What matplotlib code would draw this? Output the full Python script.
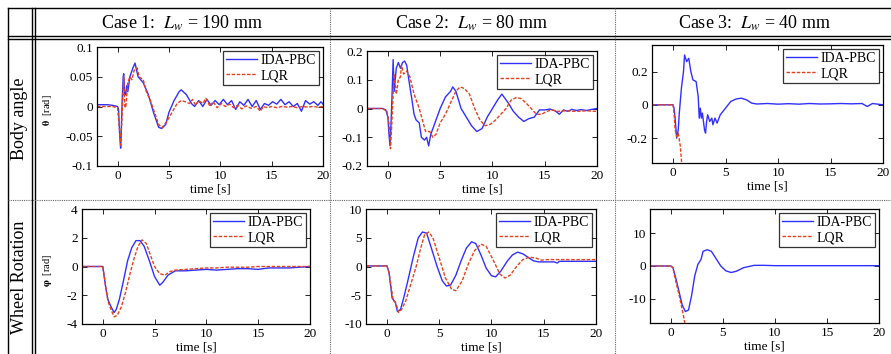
import matplotlib
matplotlib.use("Agg")
import matplotlib.pyplot as plt
from matplotlib.ticker import FuncFormatter

plt.rcParams["font.family"] = ["Liberation Serif", "DejaVu Serif"]
plt.rcParams["mathtext.fontset"] = "stix"
plt.rcParams["axes.unicode_minus"] = False

# ---- data ----
case_titles = ["Case 1:  $L_w$ = 190 mm", "Case 2:  $L_w$ = 80 mm", "Case 3:  $L_w$ = 40 mm"]
row_titles = ["Body angle", "Wheel Rotation"]
series_names = ["IDA-PBC", "LQR"]

# body angle, case 1
b1_ida_t = [-2, -1, -0.5, 0, 0.1, 0.2, 0.3, 0.35, 0.45, 0.55, 0.6, 0.7, 0.8, 0.9, 1.0, 1.2, 1.5, 1.7, 2.0,
            2.5, 3.0, 3.5, 4.0, 4.3, 4.7, 5.0, 5.5, 6.0, 6.2, 6.7, 7.2, 7.5, 7.9, 8.3, 8.7, 9.1, 9.5, 9.9,
            10.3, 10.7, 11.1, 11.5, 11.9, 12.3, 12.7, 13.1, 13.5, 13.9, 14.3, 14.7, 15.1, 15.5, 15.9,
            16.3, 16.7, 17.1, 17.5, 17.9, 18.3, 18.7, 19.1, 19.5, 19.8, 20]
b1_ida = [0.003, 0.003, 0.002, 0.0, -0.005, -0.045, -0.07, -0.05, 0.01, 0.05, 0.055, 0.02, 0.02, 0.035,
          0.025, 0.05, 0.065, 0.073, 0.05, 0.04, 0.02, -0.01, -0.035, -0.037, -0.03, -0.01, 0.01, 0.025,
          0.028, 0.02, 0.005, 0.0, 0.01, 0.0, 0.012, 0.002, 0.01, 0.003, 0.012, 0.003, 0.01, -0.005,
          0.008, 0.002, 0.012, 0.0, 0.01, -0.005, 0.005, 0.002, 0.008, 0.004, 0.012, 0.003, 0.008, 0.0,
          0.005, -0.008, 0.01, 0.004, 0.008, 0.002, 0.008, 0.004]
b1_lqr_t = [-2, -0.5, 0, 0.2, 0.3, 0.4, 0.5, 0.6, 0.7, 0.8, 1.0, 1.2, 1.4, 1.6, 1.9, 2.1, 2.5, 2.8, 3.2,
            3.6, 4.0, 4.3, 4.8, 5.3, 5.8, 6.2, 6.6, 7.0, 7.3, 7.6, 7.9, 8.3, 8.6, 9.0, 9.3, 9.7, 10.1,
            10.5, 10.9, 11.3, 11.7, 12.1, 12.5, 13.0, 13.5, 13.9, 14.2, 14.6, 15.0, 15.5, 16.0, 16.5,
            17.0, 17.5, 18.0, 18.5, 19.0, 19.5, 20]
b1_lqr = [0.0, 0.0, -0.002, -0.04, -0.065, -0.03, 0.01, 0.05, 0.0, -0.002, 0.04, 0.05, 0.045, 0.06,
          0.065, 0.05, 0.045, 0.025, 0.01, -0.01, -0.03, -0.036, -0.025, -0.01, 0.005, 0.01, 0.008,
          0.005, 0.012, 0.002, 0.01, 0.005, 0.014, 0.0, 0.008, -0.002, 0.005, 0.0, 0.004, -0.002, 0.002,
          -0.004, 0.001, -0.003, 0.0, -0.008, 0.0, -0.002, 0.0, -0.002, 0.0, -0.001, 0.0, -0.002, 0.0,
          -0.001, 0.0, -0.001, 0.0]

# body angle, case 2
b2_ida_t = [-2, -0.5, -0.2, 0.0, 0.1, 0.2, 0.3, 0.4, 0.5, 0.6, 0.7, 0.8, 1.0, 1.2, 1.4, 1.6, 1.8, 2.0,
            2.3, 2.5, 2.7, 3.0, 3.2, 3.5, 3.7, 3.9, 4.1, 4.5, 5.0, 5.5, 6.0, 6.2, 6.5, 7.0, 7.5, 8.0,
            8.5, 9.0, 9.5, 10.0, 10.5, 10.9, 11.5, 12.0, 12.5, 13.0, 13.5, 14.0, 14.5, 15.0, 15.5,
            16.0, 16.4, 16.8, 17.2, 17.6, 18.0, 18.5, 19.0, 19.5, 20]
b2_ida = [0.0, 0.0, -0.005, -0.03, -0.09, -0.13, -0.05, 0.05, 0.17, 0.06, 0.10, 0.14, 0.16, 0.14, 0.16,
          0.165, 0.15, 0.10, 0.03, -0.02, -0.04, -0.05, -0.10, -0.11, -0.10, -0.13, -0.09, -0.05, 0.0,
          0.04, 0.06, 0.075, 0.06, 0.0, -0.03, -0.06, -0.08, -0.07, -0.03, 0.0, 0.03, 0.05, 0.02,
          -0.01, -0.03, -0.045, -0.035, -0.03, -0.005, -0.005, -0.002, -0.008, -0.02, -0.005, -0.01,
          -0.003, -0.007, -0.004, -0.007, -0.003, 0.0]
b2_lqr_t = [-2, -0.5, -0.1, 0.1, 0.25, 0.35, 0.5, 0.6, 0.8, 1.0, 1.2, 1.3, 1.5, 1.8, 2.1, 2.5, 3.0, 3.3,
            3.6, 4.0, 4.3, 4.6, 5.0, 5.5, 6.0, 6.5, 6.9, 7.3, 7.8, 8.3, 8.8, 9.3, 9.8, 10.3, 10.8, 11.3,
            11.8, 12.3, 12.7, 13.2, 13.7, 14.2, 14.7, 15.2, 15.7, 16.2, 17.0, 18.0, 19.0, 20]
b2_lqr = [0.0, 0.0, -0.01, -0.05, -0.14, -0.07, 0.05, 0.12, 0.05, 0.10, 0.11, 0.15, 0.12, 0.13, 0.11,
          0.05, 0.0, -0.04, -0.08, -0.08, -0.10, -0.09, -0.05, -0.02, 0.02, 0.06, 0.075, 0.07, 0.05,
          0.0, -0.04, -0.06, -0.055, -0.04, -0.02, 0.0, 0.03, 0.038, 0.035, 0.02, 0.0, -0.02, -0.02,
          -0.01, -0.005, -0.01, -0.008, -0.01, -0.008, -0.01]

# body angle, case 3
b3_ida_t = [-2, -0.5, 0.0, 0.1, 0.2, 0.35, 0.5, 0.6, 0.8, 1.0, 1.1, 1.3, 1.5, 1.7, 1.9, 2.2, 2.4, 2.5,
            2.6, 2.7, 2.8, 2.9, 3.0, 3.1, 3.2, 3.3, 3.5, 3.7, 3.8, 4.0, 4.2, 4.5, 5.0, 5.5, 6.0, 6.5,
            7.0, 7.5, 8.0, 9.0, 10.0, 11.0, 12.0, 13.0, 14.0, 15.0, 16.0, 17.0, 18.0, 18.5, 19.0, 20]
b3_ida = [0.0, 0.0, 0.0, -0.02, -0.08, -0.2, -0.15, -0.05, 0.1, 0.2, 0.3, 0.26, 0.28, 0.2, 0.15, 0.14,
          0.05, -0.08, -0.02, -0.08, -0.05, -0.1, -0.15, -0.17, -0.1, -0.06, -0.1, -0.08, -0.12,
          -0.08, -0.11, -0.06, -0.02, 0.02, 0.035, 0.04, 0.03, 0.01, 0.005, 0.008, 0.004, 0.007,
          0.004, 0.008, 0.005, 0.006, 0.008, 0.006, 0.008, -0.01, 0.008, 0.0]
b3_lqr_t = [-2, -0.5, 0.0, 0.1, 0.2, 0.35, 0.5, 0.7, 0.8, 0.9]
b3_lqr = [0.0, 0.0, 0.0, -0.05, -0.15, -0.19, -0.17, -0.25, -0.33, -0.42]

# wheel rotation, case 1
w1_ida_t = [-2, 0, 0.1, 0.3, 0.5, 0.8, 1.1, 1.3, 1.6, 2.0, 2.4, 2.8, 3.2, 3.6, 4.0, 4.5, 5.0, 5.5, 5.8,
            6.3, 7.0, 8, 9, 10, 11, 12, 13, 14, 15, 16, 17, 18, 19, 20]
w1_ida = [0, 0, -0.5, -1.5, -2.3, -2.8, -3.2, -3.0, -2.3, -1.0, 0.4, 1.3, 1.8, 1.8, 1.4, 0.4, -0.7,
          -1.3, -1.1, -0.6, -0.3, -0.3, -0.25, -0.2, -0.25, -0.2, -0.15, -0.15, -0.2, -0.1, -0.1, -0.1,
          -0.05, 0.0]
w1_lqr_t = [-2, 0, 0.1, 0.3, 0.5, 0.8, 1.1, 1.4, 1.8, 2.2, 2.6, 3.0, 3.4, 3.8, 4.2, 4.6, 5.0, 5.5, 6.0,
            6.5, 7, 8, 9, 10, 11, 12, 13, 14, 15, 16, 17, 18, 19, 20]
w1_lqr = [0, 0, -0.4, -1.5, -2.4, -3.0, -3.5, -3.4, -2.8, -1.8, -0.6, 0.5, 1.4, 1.85, 1.6, 0.8, 0.0,
          -0.5, -0.6, -0.35, -0.25, -0.2, -0.15, -0.1, -0.1, -0.05, -0.05, -0.05, 0.0, 0.0, 0.0, 0.0,
          0.0, 0.0]

# wheel rotation, case 2
w2_ida_t = [-2, 0, 0.2, 0.4, 0.5, 0.8, 1.0, 1.3, 1.6, 2.0, 2.5, 3.0, 3.4, 3.8, 4.2, 4.8, 5.3, 5.7, 6.1,
            6.6, 7.1, 7.6, 8.1, 8.5, 9.0, 9.5, 10.0, 10.4, 10.9, 11.5, 12.0, 12.5, 13.0, 13.5, 14.0,
            14.5, 15, 16, 16.3, 16.5, 17, 20]
w2_ida = [0.1, 0.1, -1, -4, -5.5, -6.2, -7.8, -7.5, -5.5, -2.5, 1.5, 5.0, 6.0, 5.8, 3.5, 0.0, -2.5,
          -3.4, -3.2, -1.5, 1.0, 3.2, 4.3, 4.0, 2.0, -0.3, -1.6, -1.8, -0.8, 0.9, 2.0, 2.5, 2.2, 1.6,
          1.0, 0.8, 0.8, 0.8, 0.6, 0.9, 0.9, 0.9]
w2_lqr_t = [-2, 0, 0.2, 0.4, 0.6, 0.9, 1.1, 1.4, 1.8, 2.3, 2.8, 3.2, 3.6, 4.0, 4.4, 5.0, 5.6, 6.2, 6.6,
            7.2, 7.8, 8.4, 9.0, 9.5, 10.2, 10.8, 11.3, 11.8, 12.4, 13.0, 13.6, 14.2, 14.8, 15.2, 20]
w2_lqr = [0.1, 0.1, -1, -3.5, -5.8, -6.5, -8.0, -7.5, -6.0, -3.0, 0.0, 3.0, 5.5, 6.0, 5.0, 1.5, -2.0,
          -4.0, -4.2, -2.5, 0.5, 2.8, 3.9, 3.5, 1.0, -1.3, -2.0, -1.5, 0.0, 1.2, 1.6, 1.5, 1.1, 1.2, 1.2]

# wheel rotation, case 3
w3_ida_t = [-2, 0, 0.2, 0.5, 0.8, 1.1, 1.4, 1.7, 2.0, 2.3, 2.6, 2.9, 3.1, 3.5, 3.9, 4.3, 4.8, 5.3, 5.8,
            6.3, 7.0, 8, 9, 10, 12, 14, 16, 18, 20]
w3_ida = [0, 0, -0.5, -4, -8, -12, -14, -13.5, -9, -3, 0.5, 2, 4.5, 5, 4.5, 2.5, 0.0, -1.5, -2.0,
          -1.6, -0.5, 0.2, 0.2, 0.1, 0.1, 0.1, 0.1, 0.1, 0.1]
w3_lqr_t = [-2, 0, 0.2, 0.5, 0.8, 1.0, 1.2, 1.4]
w3_lqr = [0, 0, -0.5, -5, -9, -12, -15, -18.5]

curves = [
    [(b1_ida_t, b1_ida, b1_lqr_t, b1_lqr), (b2_ida_t, b2_ida, b2_lqr_t, b2_lqr), (b3_ida_t, b3_ida, b3_lqr_t, b3_lqr)],
    [(w1_ida_t, w1_ida, w1_lqr_t, w1_lqr), (w2_ida_t, w2_ida, w2_lqr_t, w2_lqr), (w3_ida_t, w3_ida, w3_lqr_t, w3_lqr)],
]
ylims = [[(-0.1, 0.1), (-0.2, 0.2), (-0.35, 0.36)], [(-4, 4), (-10, 10), (-17.5, 17.5)]]
yticks = [[[-0.1, -0.05, 0, 0.05, 0.1], [-0.2, -0.1, 0, 0.1, 0.2], [-0.2, 0, 0.2]],
          [[-4, -2, 0, 2, 4], [-10, -5, 0, 5, 10], [-10, 0, 10]]]
xticks = [0, 5, 10, 15, 20]
ylabels = [r"$\mathbf{\theta}$  [rad]", r"$\mathbf{\varphi}$  [rad]"]

# axes boxes in pixels: left, top, right, bottom
boxes = [[(97, 47, 323, 166), (367, 51, 597, 166), (652, 45, 883, 163)],
         [(82, 209, 310, 324), (366, 209, 596, 324), (650, 209, 879, 323)]]

W, H = 891, 354
fig = plt.figure(figsize=(W / 100, H / 100), dpi=100)
fig.patch.set_facecolor("white")

# table grid on a full-figure background axes (pixel coordinates)
bg = fig.add_axes([0, 0, 1, 1], zorder=-1)
bg.set_xlim(0, W)
bg.set_ylim(H, 0)
bg.axis("off")
for y in (8, 36, 38.5):
    bg.plot([8, W], [y, y], color="black", lw=1.0)
for x in (8, 32, 34.5):
    bg.plot([x, x], [8, H], color="black", lw=1.0)
for x in (330, 615):
    bg.plot([x, x], [8, H], color="#666666", lw=0.8, ls=(0, (1, 1)))
bg.plot([8, W], [200, 200], color="#666666", lw=0.8, ls=(0, (1, 1)))

header_x = [182, 472, 755]
for x, title in zip(header_x, case_titles):
    bg.text(x, 23, title, ha="center", va="center", fontsize=13)
for y, title in zip([119, 277], row_titles):
    bg.text(20, y, title, ha="center", va="center", fontsize=13, rotation=90)

fmt = FuncFormatter(lambda v, p: f"{v:g}")
for r in range(2):
    for c in range(3):
        l, t, rr, b = boxes[r][c]
        ax = fig.add_axes([l / W, 1 - b / H, (rr - l) / W, (b - t) / H])
        ti, yi, tl, yl = curves[r][c]
        ax.plot(ti, yi, color="#3030ff", lw=1.0, label=series_names[0])
        ax.plot(tl, yl, color="#e8401c", lw=1.0, ls=(0, (2.5, 1.2)), label=series_names[1])
        ax.set_xlim(-2, 20)
        ax.set_ylim(*ylims[r][c])
        ax.set_xticks(xticks)
        ax.set_yticks(yticks[r][c])
        ax.yaxis.set_major_formatter(fmt)
        ax.tick_params(direction="in", top=True, right=True, length=3.5, width=0.6,
                       labelsize=9.5, pad=3)
        for s in ax.spines.values():
            s.set_linewidth(0.9)
        ax.set_xlabel("time [s]", fontsize=9.5, labelpad=1)
        if c == 0:
            ax.set_ylabel(ylabels[r], fontsize=7.5)
            ax.yaxis.set_label_coords((54 - l) / (rr - l), 0.47)
        leg = ax.legend(loc="upper right", fontsize=10, frameon=True, fancybox=False,
                        edgecolor="black", handlelength=2.2, handletextpad=0.3,
                        borderpad=0.2, labelspacing=0.15, borderaxespad=0.3)
        leg.get_frame().set_linewidth(0.9)

fig.savefig("out.png", dpi=100, facecolor="white")
